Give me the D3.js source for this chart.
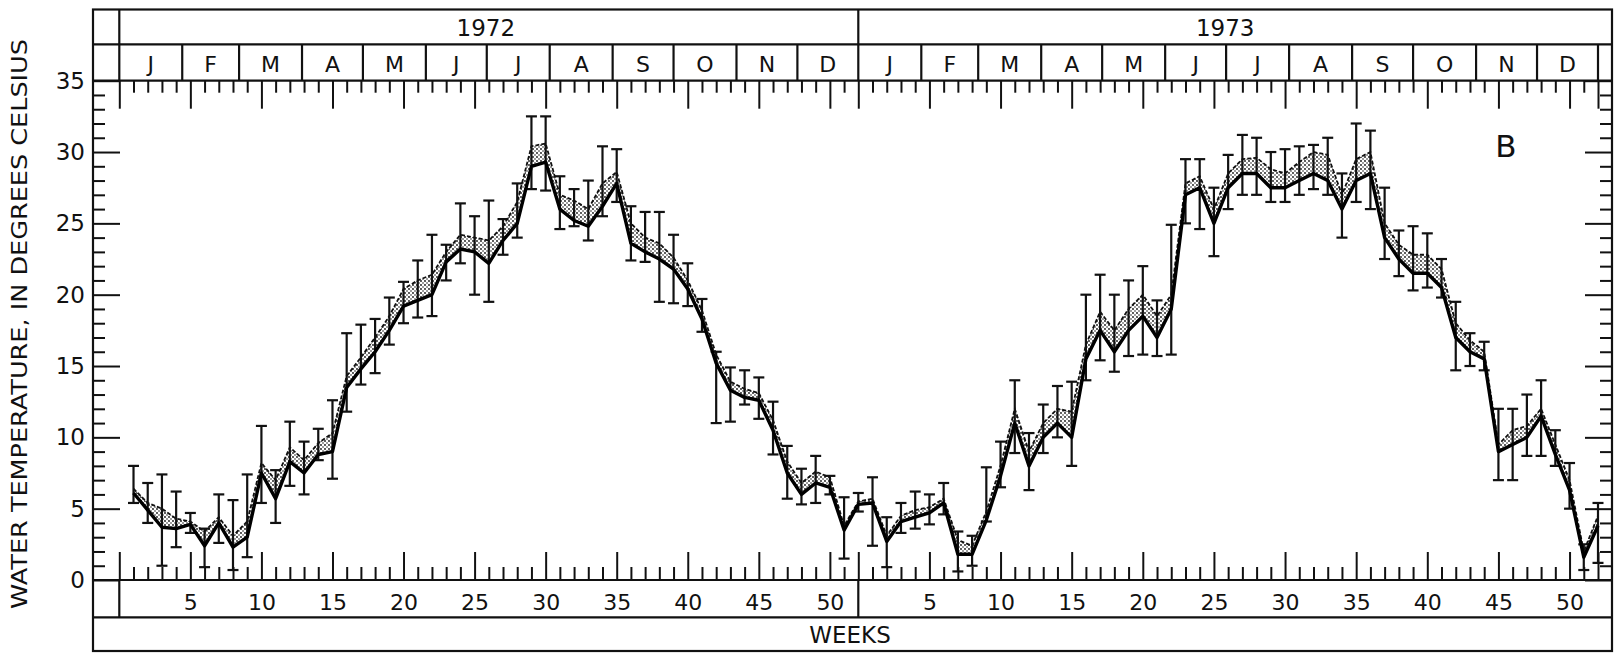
<!DOCTYPE html>
<html lang="en">
<head>
<meta charset="UTF-8">
<title>Water temperature, weekly, 1972-1973</title>
<script src="https://cdnjs.cloudflare.com/ajax/libs/d3/7.8.5/d3.min.js"></script>
<style>
  body { margin: 0; background: #fff; }
  svg { display: block; }
  text { font-family: "DejaVu Sans", Lato, sans-serif; fill: #111; }
  .tick line { stroke: #111; stroke-width: 2; }
  .frame { stroke: #111; stroke-width: 2.2; fill: none; }
</style>
</head>
<body>
<svg id="chart" width="1618" height="653"></svg>
<script>
// ---- data ----
const years = ["1972", "1973"];
const monthLetters = ["J", "F", "M", "A", "M", "J", "J", "A", "S", "O", "N", "D"];
const monthStartDays = [0, 31, 59, 90, 120, 151, 181, 212, 243, 273, 304, 334, 365];
const weekLabels = [5, 10, 15, 20, 25, 30, 35, 40, 45, 50];
const tempTicks = [0, 5, 10, 15, 20, 25, 30, 35];

// weekly values, weeks 1..52 of each year
const lower1972 = [6.1, 4.9, 3.7, 3.6, 3.9, 2.4, 4.0, 2.3, 3.0, 7.5, 5.7, 8.3, 7.5, 8.8, 9.0, 13.5, 14.8, 16.0, 17.5, 19.2,
  19.6, 20.0, 22.3, 23.2, 23.0, 22.2, 23.8, 25.0, 29.0, 29.3, 26.0, 25.2, 24.8, 26.2, 27.8, 23.6, 23.0, 22.5, 21.8, 20.4,
  18.3, 15.2, 13.3, 12.8, 12.6, 10.5, 7.5, 6.0, 6.8, 6.5, 3.5, 5.3];
const upper1972 = [6.4, 5.4, 5.0, 4.3, 4.1, 3.4, 4.4, 3.1, 4.1, 8.2, 7.0, 9.3, 8.4, 9.6, 10.3, 14.3, 15.6, 17.0, 18.5, 20.4,
  21.0, 21.4, 23.0, 24.2, 24.0, 23.8, 24.8, 26.5, 30.4, 30.6, 27.0, 26.6, 26.0, 27.8, 28.6, 25.0, 24.0, 23.6, 22.6, 21.0,
  18.9, 15.8, 13.9, 13.4, 13.1, 11.2, 8.3, 6.8, 7.6, 7.2, 3.8, 5.5];
const errHigh1972 = [8.0, 6.8, 7.4, 6.2, 4.7, 3.6, 6.0, 5.6, 7.4, 10.8, 7.7, 11.1, 9.7, 10.6, 12.6, 17.3, 17.9, 18.3, 19.8, 20.9,
  22.4, 24.2, 23.5, 26.4, 25.5, 26.6, 25.3, 27.8, 32.5, 32.5, 28.3, 27.4, 28.0, 30.4, 30.2, 26.2, 25.8, 25.8, 24.2, 22.2,
  19.7, 16.0, 14.9, 14.7, 14.2, 12.5, 9.4, 7.8, 8.7, 7.3, 5.8, 6.1];
const errLow1972 = [5.4, 4.0, 1.0, 2.3, 3.3, 0.9, 2.6, 0.7, 1.6, 5.4, 4.0, 6.6, 6.0, 8.4, 7.1, 11.8, 13.7, 14.5, 16.5, 18.0,
  18.4, 18.5, 21.0, 22.2, 20.0, 19.5, 22.8, 24.0, 27.4, 27.3, 24.6, 24.8, 23.8, 25.5, 26.5, 22.4, 22.3, 19.5, 19.4, 19.2,
  17.4, 11.0, 11.1, 12.3, 11.3, 8.8, 5.7, 5.3, 5.4, 6.0, 1.5, 4.8];

const lower1973 = [5.4, 2.7, 4.1, 4.4, 4.7, 5.4, 1.8, 1.8, 4.2, 7.3, 11.0, 8.0, 10.0, 11.0, 10.0, 15.5, 17.5, 16.0, 17.5, 18.5,
  17.0, 19.0, 27.0, 27.5, 25.0, 27.5, 28.5, 28.5, 27.5, 27.5, 28.0, 28.5, 28.0, 26.0, 28.0, 28.5, 24.0, 22.5, 21.5, 21.5,
  20.5, 17.0, 16.0, 15.5, 9.0, 9.5, 10.0, 11.5, 8.8, 6.3, 1.6, 3.8];
const upper1973 = [5.7, 3.1, 4.5, 4.9, 5.1, 5.7, 2.8, 2.4, 4.8, 8.0, 12.0, 9.0, 11.0, 12.0, 11.8, 16.5, 18.8, 17.5, 19.0, 20.0,
  18.5, 20.0, 27.8, 28.3, 26.0, 28.5, 29.5, 29.6, 28.8, 28.5, 29.3, 30.0, 29.8, 27.0, 29.5, 30.0, 25.0, 23.5, 22.8, 22.8,
  21.8, 18.0, 16.8, 16.0, 9.5, 10.5, 10.8, 12.0, 9.5, 7.0, 2.0, 4.5];
const errHigh1973 = [7.2, 4.4, 5.4, 6.2, 6.0, 6.8, 3.4, 3.1, 7.9, 9.7, 14.0, 10.3, 12.3, 13.6, 13.9, 20.0, 21.4, 20.0, 21.0, 22.0,
  19.6, 24.9, 29.5, 29.5, 27.5, 29.8, 31.2, 31.0, 30.0, 30.2, 30.4, 30.5, 31.0, 28.5, 32.0, 31.5, 27.5, 24.5, 24.8, 24.3,
  22.5, 19.5, 17.3, 16.7, 12.0, 12.0, 13.0, 14.0, 10.5, 8.2, 2.5, 5.4];
const errLow1973 = [2.4, 0.9, 3.3, 3.6, 3.9, 4.6, 0.6, 1.0, 4.1, 6.5, 8.9, 6.3, 8.9, 10.0, 8.0, 14.0, 15.4, 14.6, 15.7, 15.8,
  15.7, 15.8, 25.0, 24.6, 22.7, 26.0, 27.0, 27.0, 26.5, 26.5, 27.0, 27.4, 27.0, 24.0, 26.5, 26.0, 22.5, 21.3, 20.3, 20.5,
  19.8, 14.7, 15.0, 14.7, 7.0, 7.0, 8.7, 8.7, 8.0, 5.0, 0.7, 1.2];

// ---- layout ----
const frameL = 93, frameR = 1612, frameT = 9.5, frameB = 651;
const yearRowB = 44.3, monthRowB = 80.7, baseY = 580, weekRowB = 617.3;

const svg = d3.select("#chart");

// x: continuous week index 0..104 (1972 week w -> w, 1973 week w -> 52 + w)
const x = d3.scaleLinear().domain([0, 52, 104]).range([119.3, 858.3, 1598]);
const y = d3.scaleLinear().domain([0, 35]).range([baseY, monthRowB]);

// combine both years into one sequence
const points = [];
[[lower1972, upper1972, errHigh1972, errLow1972], [lower1973, upper1973, errHigh1973, errLow1973]].forEach((set, yi) => {
  set[0].forEach((v, i) => {
    points.push({ t: yi * 52 + i + 1, lower: v, upper: set[1][i], hi: set[2][i], lo: set[3][i] });
  });
});

// stipple pattern for the band
const defs = svg.append("defs");
const pat = defs.append("pattern")
  .attr("id", "stipple")
  .attr("width", 4).attr("height", 4)
  .attr("patternUnits", "userSpaceOnUse");
pat.append("rect").attr("width", 4).attr("height", 4).attr("fill", "#fff");
pat.append("circle").attr("cx", 1).attr("cy", 1).attr("r", 0.9).attr("fill", "#111");
pat.append("circle").attr("cx", 3).attr("cy", 3).attr("r", 0.8).attr("fill", "#222");

// ---- frame ----
svg.append("rect").attr("class", "frame")
  .attr("x", frameL).attr("y", frameT)
  .attr("width", frameR - frameL).attr("height", frameB - frameT);

[yearRowB, monthRowB, baseY, weekRowB].forEach(yy => {
  svg.append("line").attr("class", "frame")
    .attr("x1", frameL).attr("x2", frameR).attr("y1", yy).attr("y2", yy);
});

// year cell dividers (left column, between years)
[x(0), x(52)].forEach(xx => {
  svg.append("line").attr("class", "frame")
    .attr("x1", xx).attr("x2", xx).attr("y1", frameT).attr("y2", monthRowB);
  svg.append("line").attr("class", "frame")
    .attr("x1", xx).attr("x2", xx).attr("y1", baseY).attr("y2", weekRowB);
});
// right end cell in month row
svg.append("line").attr("class", "frame")
  .attr("x1", x(104)).attr("x2", x(104)).attr("y1", yearRowB).attr("y2", monthRowB);

// ---- header labels ----
years.forEach((yr, i) => {
  svg.append("text")
    .attr("x", x(i * 52 + 26) - 3).attr("y", 35.5)
    .attr("text-anchor", "middle").attr("font-size", 23)
    .text(yr);
});

const monthBounds = [];
years.forEach((yr, yi) => {
  monthStartDays.forEach((d, mi) => {
    if (mi > 0 && mi < 12) monthBounds.push(yi * 52 + d / 7);
  });
});
svg.append("g").selectAll("line").data(monthBounds).join("line")
  .attr("class", "frame")
  .attr("x1", d => x(d)).attr("x2", d => x(d))
  .attr("y1", yearRowB).attr("y2", monthRowB);

years.forEach((yr, yi) => {
  monthLetters.forEach((m, mi) => {
    const s = yi * 52 + monthStartDays[mi] / 7;
    const e = Math.min(yi * 52 + monthStartDays[mi + 1] / 7, yi * 52 + 52);
    svg.append("text")
      .attr("x", x((s + e) / 2)).attr("y", 71.5)
      .attr("text-anchor", "middle").attr("font-size", 22)
      .text(m);
  });
});

// ---- week ticks ----
const allWeeks = d3.range(1, 105);
const majorWeeks = allWeeks.filter(w => (w % 52) % 5 === 0 || w % 52 === 0);
const minorWeeks = allWeeks.filter(w => !majorWeeks.includes(w));

function clean(g) { g.select(".domain").remove(); }

// top: hang down from the top line
svg.append("g").attr("transform", `translate(0,${monthRowB})`)
  .call(d3.axisBottom(x).tickValues(minorWeeks).tickSize(12).tickFormat(""))
  .call(clean);
svg.append("g").attr("transform", `translate(0,${monthRowB})`)
  .call(d3.axisBottom(x).tickValues(majorWeeks.concat([0])).tickSize(28).tickFormat(""))
  .call(clean);

// bottom: rise from the zero line
svg.append("g").attr("transform", `translate(0,${baseY})`)
  .call(d3.axisTop(x).tickValues(minorWeeks).tickSize(13).tickFormat(""))
  .call(clean);
svg.append("g").attr("transform", `translate(0,${baseY})`)
  .call(d3.axisTop(x).tickValues(majorWeeks.concat([0])).tickSize(28).tickFormat(""))
  .call(clean);

// week numbers
const labelWeeks = [];
years.forEach((yr, yi) => weekLabels.forEach(w => labelWeeks.push(yi * 52 + w)));
svg.append("g").attr("transform", `translate(0,${baseY})`)
  .call(d3.axisBottom(x).tickValues(labelWeeks).tickSize(0).tickPadding(14)
    .tickFormat(d => ((d - 1) % 52) + 1))
  .call(clean)
  .selectAll("text").attr("font-size", 22).attr("font-family", "'DejaVu Sans', Lato, sans-serif");

svg.append("text")
  .attr("x", 850).attr("y", 643)
  .attr("text-anchor", "middle").attr("font-size", 23)
  .text("WEEKS");

// ---- temperature ticks ----
const degTicks = d3.range(0, 36);
const degMinor = degTicks.filter(d => d % 5 !== 0);

svg.append("g").attr("transform", `translate(${frameL},0)`)
  .call(d3.axisRight(y).tickValues(degMinor).tickSize(12).tickFormat(""))
  .call(clean);
svg.append("g").attr("transform", `translate(${frameL},0)`)
  .call(d3.axisRight(y).tickValues(tempTicks).tickSize(27).tickFormat(""))
  .call(clean);
svg.append("g").attr("transform", `translate(${frameR},0)`)
  .call(d3.axisLeft(y).tickValues(degMinor).tickSize(12).tickFormat(""))
  .call(clean);
svg.append("g").attr("transform", `translate(${frameR},0)`)
  .call(d3.axisLeft(y).tickValues(tempTicks).tickSize(27).tickFormat(""))
  .call(clean);

svg.append("g").attr("transform", `translate(${frameL},0)`)
  .call(d3.axisLeft(y).tickValues(tempTicks).tickSize(0).tickPadding(8))
  .call(clean)
  .selectAll("text").attr("font-size", 23).attr("font-family", "'DejaVu Sans', Lato, sans-serif");

svg.append("text")
  .attr("transform", "translate(27,324) rotate(-90)")
  .attr("text-anchor", "middle").attr("font-size", 22)
  .attr("textLength", 570).attr("lengthAdjust", "spacingAndGlyphs")
  .text("WATER TEMPERATURE, IN DEGREES CELSIUS");

// ---- data marks ----
const area = d3.area()
  .x(d => x(d.t))
  .y0(d => y(d.lower))
  .y1(d => y(d.upper));
svg.append("path").datum(points)
  .attr("d", area)
  .attr("fill", "url(#stipple)");

const bars = svg.append("g").attr("stroke", "#111").attr("stroke-width", 2.2);
bars.selectAll("line.stem").data(points).join("line")
  .attr("class", "stem")
  .attr("x1", d => x(d.t)).attr("x2", d => x(d.t))
  .attr("y1", d => y(d.hi)).attr("y2", d => y(d.lo));
bars.selectAll("line.capHi").data(points).join("line")
  .attr("class", "capHi")
  .attr("x1", d => x(d.t) - 5.5).attr("x2", d => x(d.t) + 5.5)
  .attr("y1", d => y(d.hi)).attr("y2", d => y(d.hi));
bars.selectAll("line.capLo").data(points).join("line")
  .attr("class", "capLo")
  .attr("x1", d => x(d.t) - 5.5).attr("x2", d => x(d.t) + 5.5)
  .attr("y1", d => y(d.lo)).attr("y2", d => y(d.lo));

const upperLine = d3.line().x(d => x(d.t)).y(d => y(d.upper));
const lowerLine = d3.line().x(d => x(d.t)).y(d => y(d.lower));

svg.append("path").datum(points)
  .attr("d", upperLine)
  .attr("fill", "none").attr("stroke", "#111")
  .attr("stroke-width", 1.8).attr("stroke-dasharray", "4,2");
svg.append("path").datum(points)
  .attr("d", lowerLine)
  .attr("fill", "none").attr("stroke", "#000")
  .attr("stroke-width", 3.4).attr("stroke-linejoin", "round");

// panel letter
svg.append("text")
  .attr("x", 1506).attr("y", 157)
  .attr("text-anchor", "middle").attr("font-size", 31)
  .attr("font-family", "'DejaVu Sans Condensed', 'Liberation Sans Narrow', sans-serif")
  .text("B");
</script>
</body>
</html>
